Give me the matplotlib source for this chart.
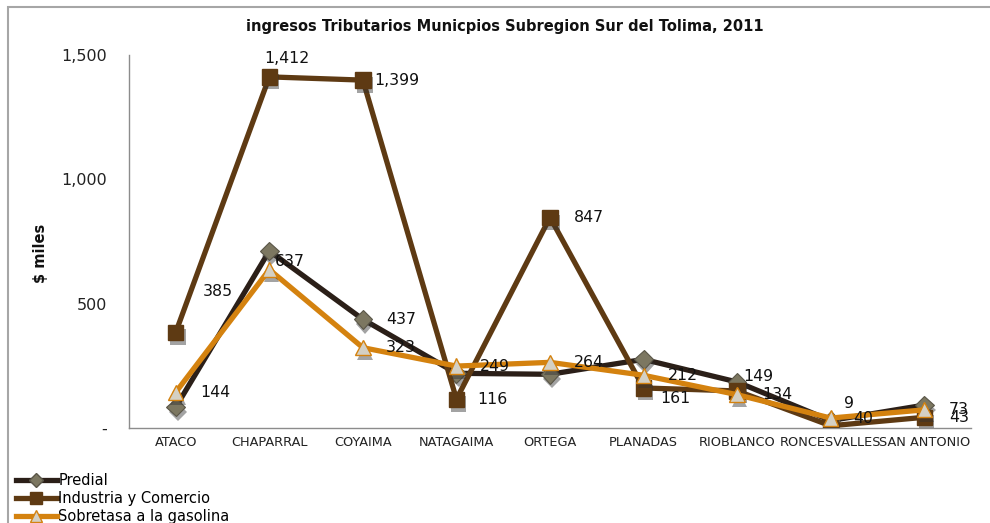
import matplotlib
matplotlib.use("Agg")
import matplotlib.pyplot as plt
import matplotlib.patheffects as pe
from matplotlib.patches import Rectangle
from matplotlib.lines import Line2D

categories = ["ATACO", "CHAPARRAL", "COYAIMA", "NATAGAIMA", "ORTEGA",
              "PLANADAS", "RIOBLANCO", "RONCESVALLES", "SAN ANTONIO"]
predial = [84, 712, 437, 220, 216, 276, 185, 30, 92]
industria = [385, 1412, 1399, 116, 847, 161, 149, 9, 43]
sobretasa = [144, 637, 323, 249, 264, 212, 134, 40, 73]
yticks = [0, 500, 1000, 1500]
ytick_labels = ["-", "500", "1,000", "1,500"]

# label offsets in pixels (dx right, dy up)
ind_off = [(27, 41), (-5, 18), (11, 0), (21, 0), (24, 0), (17, -11), (6, 14), (13, 22), (25, 0)]
sob_off = [(24, 0), (6, 8), (23, 0), (23, 0), (24, 0), (24, 0), (25, 0), (23, 0), (25, 0)]

W, H = 990, 523
fig = plt.figure(figsize=(W / 100, H / 100), dpi=100)
fig.patches.append(Rectangle((8 / W, -0.1), 1.2, 1 - 7 / H + 0.1, transform=fig.transFigure,
                             fill=False, edgecolor="#a6a6a6", linewidth=1.5, zorder=0))
ax = fig.add_axes([129 / W, 1 - 428 / H, (971 - 129) / W, (428 - 55) / H])

x = list(range(len(categories)))
shadow = [pe.SimplePatchShadow(offset=(1.5, -3.5), shadow_rgbFace="#333333", alpha=0.45), pe.Normal()]

C_PRED = "#2b1f18"
C_IND = "#5e3a13"
C_SOB = "#d4820f"

ax.plot(x, predial, color=C_PRED, lw=3.8, zorder=2, solid_joinstyle="miter")
ax.plot(x, predial, ls="none", marker="D", ms=9.5, mfc="#7c7761", mec="#5a5648", mew=0.8,
        zorder=2.5, path_effects=shadow)
ax.plot(x, industria, color=C_IND, lw=3.8, zorder=3, solid_joinstyle="miter")
ax.plot(x, industria, ls="none", marker="s", ms=11, mfc=C_IND, mec=C_IND,
        zorder=3.5, path_effects=shadow)
ax.plot(x, sobretasa, color=C_SOB, lw=3.8, zorder=4, solid_joinstyle="miter")
ax.plot(x, sobretasa, ls="none", marker="^", ms=11, mfc="#d4d0c4", mec=C_SOB, mew=1.0,
        zorder=4.5, path_effects=shadow)

lab_kw = dict(fontsize=11.3, color="#111111", va="center", ha="left",
              textcoords="offset pixels", zorder=6, family="DejaVu Sans")
for i, v in enumerate(industria):
    ax.annotate(f"{v:,}", (i, v), xytext=ind_off[i], **lab_kw)
for i, v in enumerate(sobretasa):
    ax.annotate(f"{v:,}", (i, v), xytext=sob_off[i], **lab_kw)
ax.annotate(f"{predial[2]:,}", (2, predial[2]), xytext=(23, 0), **lab_kw)

ax.set_xlim(-0.5, len(categories) - 0.5)
ax.set_ylim(0, 1500)
ax.set_yticks(yticks)
ax.set_yticklabels(ytick_labels, fontsize=11.5, color="#222222")
ax.set_xticks(x)
ax.set_xticklabels(categories, fontsize=9.3, color="#222222")
ax.tick_params(axis="both", length=0)
ax.tick_params(axis="y", pad=16)
ax.tick_params(axis="x", pad=6)
for s in ["top", "right"]:
    ax.spines[s].set_visible(False)
for s in ["left", "bottom"]:
    ax.spines[s].set_color("#8c8c8c")
    ax.spines[s].set_linewidth(1.0)
ax.patch.set_alpha(0)

fig.text(505 / W, 1 - 27 / H, "ingresos Tributarios Municpios Subregion Sur del Tolima, 2011",
         ha="center", va="center", fontsize=10.5, fontweight="bold",
         family=["Liberation Sans Narrow", "DejaVu Sans"], color="#111111")
fig.text(40 / W, 1 - 253 / H, "$ miles", rotation=90, ha="center", va="center",
         fontsize=10.5, fontweight="bold", family=["Liberation Sans Narrow", "DejaVu Sans"],
         color="#111111")

handles = [
    Line2D([], [], color=C_PRED, lw=3.8, marker="D", ms=7, mfc="#7c7761", mec="#5a5648"),
    Line2D([], [], color=C_IND, lw=3.8, marker="s", ms=8, mfc=C_IND, mec=C_IND),
    Line2D([], [], color=C_SOB, lw=3.8, marker="^", ms=8, mfc="#d4d0c4", mec=C_SOB),
]
fig.legend(handles, ["Predial", "Industria y Comercio", "Sobretasa a la gasolina"],
           loc="upper left", bbox_to_anchor=(16 / W, 1 - 473 / H), frameon=False,
           fontsize=10.5, handlelength=2.8, handletextpad=0.1, labelspacing=0.2,
           borderpad=0, borderaxespad=0)

fig.savefig("out.png", dpi=100)
